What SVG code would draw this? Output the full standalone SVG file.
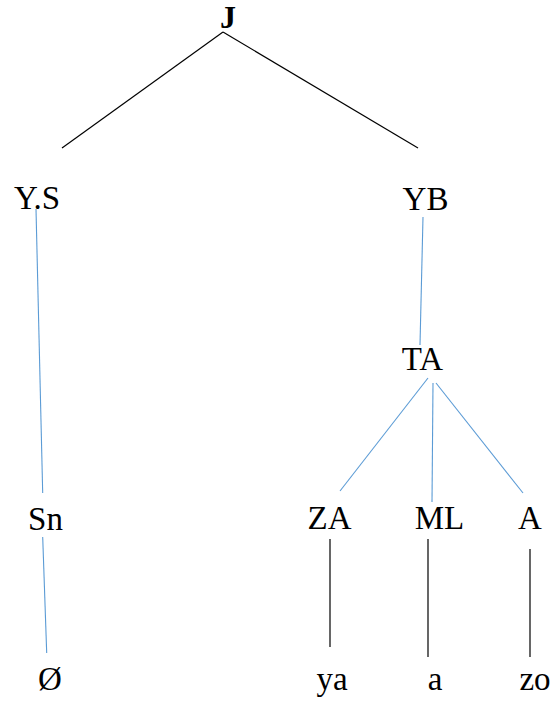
<svg xmlns="http://www.w3.org/2000/svg" width="555" height="702" viewBox="0 0 555 702">
<style>
.t{font-family:'Liberation Serif','Times New Roman','DejaVu Serif',serif;font-size:33px;font-weight:normal;font-style:normal;fill:#000;text-anchor:middle}
.j{font-weight:bold;font-size:32px}
.b{stroke:#5B9BD5;stroke-width:1.1;fill:none}
.k{stroke:#000;stroke-width:1.2;fill:none}
</style>
<rect width="555" height="702" fill="#fff"/>
<g id="connectors">
<line class="k" x1="223" y1="32" x2="62" y2="148"/>
<line class="k" x1="223" y1="32" x2="418" y2="148"/>
<line class="b" x1="36" y1="209" x2="42.7" y2="493"/>
<line class="b" x1="42.7" y1="537" x2="46.7" y2="653"/>
<line class="b" x1="423" y1="217" x2="420" y2="345"/>
<line class="b" x1="428" y1="378" x2="340" y2="491"/>
<line class="b" x1="433" y1="383" x2="432" y2="502"/>
<line class="b" x1="436" y1="383" x2="523" y2="493"/>
<line class="k" x1="330" y1="539" x2="330" y2="647"/>
<line class="k" x1="428" y1="539" x2="428" y2="657"/>
<line class="k" x1="530" y1="549" x2="530" y2="657"/>
</g>
<g id="n-J"><text class="t j" x="228" y="28">J</text></g>
<g id="n-YS"><text class="t" x="37" y="209">Y.S</text></g>
<g id="n-YB"><text class="t" x="425.5" y="210">YB</text></g>
<g id="n-TA"><text class="t" x="422.5" y="370">TA</text></g>
<g id="n-Sn"><text class="t" x="45.5" y="530">Sn</text></g>
<g id="n-ZA"><text class="t" x="329.5" y="529">ZA</text></g>
<g id="n-ML"><text class="t" x="439.5" y="529">ML</text></g>
<g id="n-A"><text class="t" x="530" y="529">A</text></g>
<g id="n-null"><text class="t" x="50" y="690">Ø</text></g>
<g id="n-ya"><text class="t" x="332" y="690">ya</text></g>
<g id="n-a"><text class="t" x="435" y="690">a</text></g>
<g id="n-zo"><text class="t" x="535" y="690">zo</text></g>
</svg>
